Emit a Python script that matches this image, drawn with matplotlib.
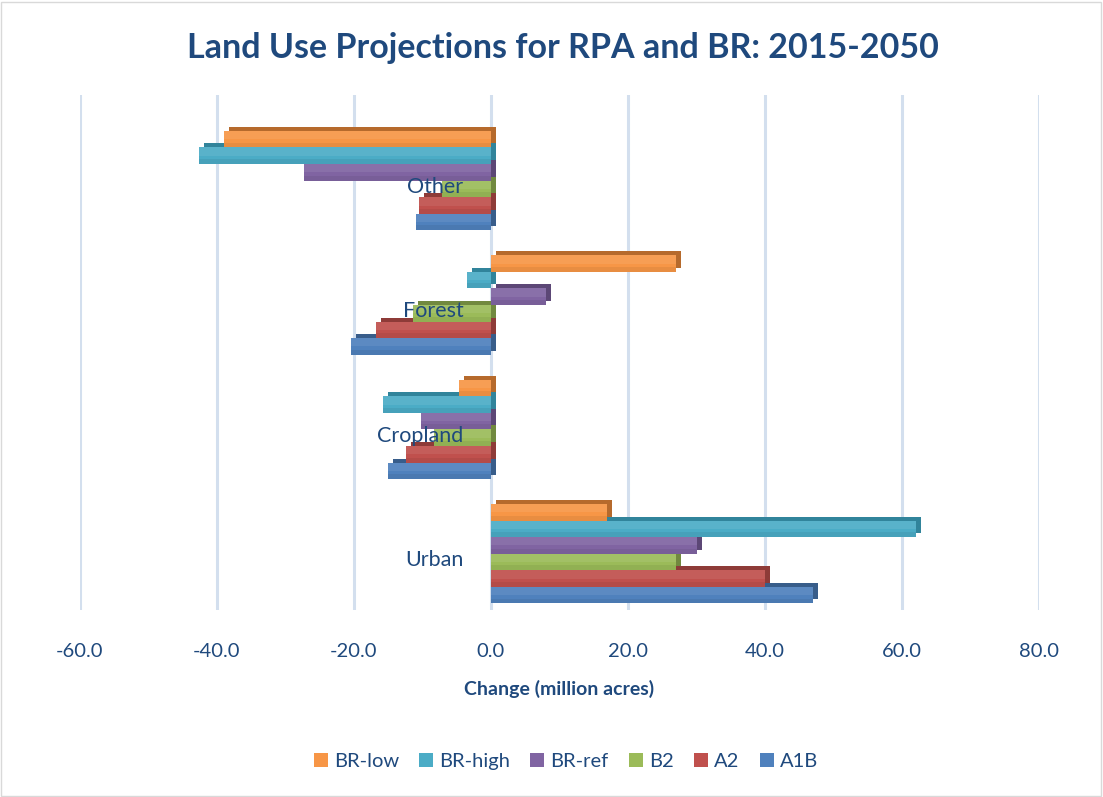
import numpy as np
import matplotlib
matplotlib.use("Agg")
import matplotlib.pyplot as plt
import matplotlib.transforms as mtransforms
from matplotlib.patches import Rectangle

plt.rcParams["font.family"] = ["Lato", "DejaVu Sans"]

# land use change 2015-2050, million acres
categories = ["Urban", "Cropland", "Forest", "Other"]
series = ["BR-low", "BR-high", "BR-ref", "B2", "A2", "A1B"]

br_low = [17.0, -4.7, 27.0, -39.0]
br_high = [62.0, -15.8, -3.5, -42.6]
br_ref = [30.0, -10.2, 8.0, -27.3]
b2 = [27.0, -8.3, -11.4, -7.2]
a2 = [40.0, -12.4, -16.8, -10.5]
a1b = [47.0, -15.0, -20.4, -11.0]

values = [br_low, br_high, br_ref, b2, a2, a1b]

face_colors = ["#F79646", "#4BACC6", "#8064A2", "#9BBB59", "#C0504D", "#4F81BD"]
side_colors = ["#B66A2C", "#31849B", "#5C4776", "#71893F", "#8E3B38", "#385D8A"]

text_color = "#1F497D"
grid_color = "#D3DFEE"

fig = plt.figure(figsize=(11.03, 7.97), dpi=100)
ax = fig.add_axes([0.0725, 0.235, 0.8695, 0.646])

y = np.arange(len(categories))
h = 0.8 / len(series)

# vertical gridlines
for gx in range(-60, 81, 20):
    ax.axvline(gx, color=grid_color, lw=2.2, zorder=0)

# fake 3D depth: darker copy offset up and right behind each bar
depth = mtransforms.offset_copy(ax.transData, fig=fig, x=5, y=4, units="dots")

# draw bottom series first so upper bars' depth sits on top
for j in range(len(series) - 1, -1, -1):
    vals = values[j]
    offset = (2.5 - j) * h
    z = 2 + (5 - j) * 0.1
    for i, v in enumerate(vals):
        yc = y[i] + offset - h / 2
        ax.add_patch(Rectangle((0, yc), v, h, transform=depth,
                               facecolor=side_colors[j], edgecolor="none",
                               zorder=z))
    ax.barh(y + offset, vals, height=h, color=face_colors[j],
            edgecolor="none", label=series[j], zorder=z + 0.02)
    # soft shading: lighter top, darker bottom
    for i, v in enumerate(vals):
        ax.add_patch(Rectangle((0, y[i] + offset), v, h / 2, facecolor="white",
                               alpha=0.08, edgecolor="none", zorder=z + 0.03))
        ax.add_patch(Rectangle((0, y[i] + offset - h / 2), v, h * 0.3,
                               facecolor="black", alpha=0.06, edgecolor="none",
                               zorder=z + 0.03))

# category names sit just left of the zero line
for i, cat in enumerate(categories):
    ax.text(-4, y[i] - 0.05, cat, ha="right", va="center", fontsize=15.5,
            color=text_color, zorder=10)

ax.set_xlim(-60, 80)
ax.set_ylim(-0.45, 3.69)
ax.set_xticks(range(-60, 81, 20))
ax.set_xticklabels([f"{t:.1f}" for t in range(-60, 81, 20)],
                   fontsize=14.5, color=text_color)
ax.set_yticks([])
ax.tick_params(axis="x", length=0, pad=24)
for s in ax.spines.values():
    s.set_visible(False)

ax.set_xlabel("Change (million acres)", fontsize=14, fontweight="bold",
              color=text_color, labelpad=14)

fig.text(0.51, 0.94, "Land Use Projections for RPA and BR: 2015-2050",
         fontsize=24.5, fontweight="bold", color=text_color,
         ha="center", va="center")

handles, labels = ax.get_legend_handles_labels()
order = [labels.index(s) for s in series]
fig.legend([handles[k] for k in order], [labels[k] for k in order],
           loc="center", bbox_to_anchor=(0.513, 0.044), ncol=6, frameon=False,
           fontsize=14.5, handlelength=0.7, handleheight=0.7, handletextpad=0.3,
           columnspacing=1.0, labelcolor=text_color)

fig.patches.append(Rectangle((0.001, 0.001), 0.997, 0.997,
                             transform=fig.transFigure, fill=False,
                             edgecolor="#D9D9D9", lw=1))

fig.savefig("out.png", dpi=100, facecolor="white")
